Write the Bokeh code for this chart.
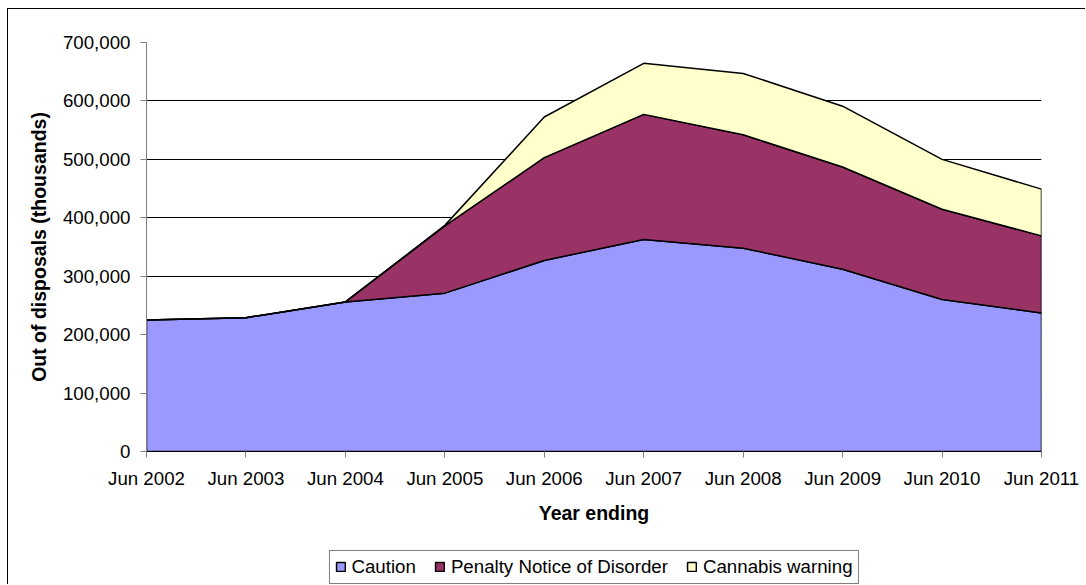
from bokeh.plotting import figure
from bokeh.layouts import column
from bokeh.models import Range1d, FixedTicker, NumeralTickFormatter, Legend, LegendItem
from bokeh.embed import file_html
from bokeh.resources import INLINE

years = ["Jun 2002", "Jun 2003", "Jun 2004", "Jun 2005", "Jun 2006",
         "Jun 2007", "Jun 2008", "Jun 2009", "Jun 2010", "Jun 2011"]
caution = [225000, 229000, 256000, 271000, 327000, 363000, 348000, 312000, 260000, 237000]
pnd = [0, 0, 0, 115000, 176000, 214000, 194000, 175000, 154500, 132000]
cannabis = [0, 0, 0, 1000, 69500, 87400, 105000, 104000, 85500, 80000]
y_ticks = [0, 100000, 200000, 300000, 400000, 500000, 600000, 700000]

series_names = ["Caution", "Penalty Notice of Disorder", "Cannabis warning"]
series_colors = ["#9999FF", "#993366", "#FFFFCC"]

FONT = "Liberation Sans"

p = figure(width=1077, height=540, x_range=Range1d(0, len(years) - 1),
           y_range=Range1d(0, 700000), output_backend="svg", toolbar_location=None,
           min_border_left=138, min_border_right=44, min_border_top=33,
           min_border_bottom=98)

p.outline_line_color = None
p.background_fill_color = "white"
p.border_fill_color = "white"

xs = list(range(len(years)))
polys = []
bottom = [0] * len(years)
for vals in [caution, pnd, cannabis]:
    top = [b + v for b, v in zip(bottom, vals)]
    polys.append((xs + xs[::-1], top + bottom[::-1]))
    bottom = top

for (px, py), color in zip(polys, series_colors):
    p.patch(px, py, fill_color=color, line_color="black", line_width=1.5)

# axes
p.xaxis.ticker = FixedTicker(ticks=xs)
p.xaxis.major_label_overrides = {i: y for i, y in enumerate(years)}
p.yaxis.ticker = FixedTicker(ticks=y_ticks)
p.yaxis.formatter = NumeralTickFormatter(format="0,0")

for ax in (p.xaxis[0], p.yaxis[0]):
    ax.major_label_text_font = FONT
    ax.major_label_text_font_size = "18.7px"
    ax.major_label_text_color = "black"
    ax.axis_label_text_font = FONT
    ax.axis_label_text_font_size = "19.5px"
    ax.axis_label_text_font_style = "bold"
    ax.axis_label_text_color = "black"
    ax.minor_tick_line_color = None
    ax.major_tick_in = 0
    ax.major_tick_out = 6
    ax.major_label_standoff = 10

p.xaxis.axis_label = "Year ending"
p.yaxis.axis_label = "Out of disposals (thousands)"
p.xaxis.axis_label_standoff = 10
p.yaxis.axis_label_standoff = 10
p.xaxis.axis_line_color = "black"
p.xaxis.major_tick_line_color = "#808080"
p.yaxis.axis_line_color = "#808080"
p.yaxis.major_tick_line_color = "#808080"

p.xgrid.grid_line_color = None
p.ygrid.ticker = FixedTicker(ticks=y_ticks)
p.ygrid.grid_line_color = "black"
p.ygrid.grid_line_width = 1

# legend strip below the chart (series drawn out of view; only their legend swatches show)
p2 = figure(width=1077, height=35, x_range=Range1d(0, 1), y_range=Range1d(-2, -1),
            output_backend="svg", toolbar_location=None,
            x_axis_type=None, y_axis_type=None,
            min_border_left=138, min_border_right=44, min_border_top=0, min_border_bottom=0)
p2.outline_line_color = None
p2.xgrid.grid_line_color = None
p2.ygrid.grid_line_color = None
p2.border_fill_color = "white"
p2.background_fill_color = "white"

swatches = [p2.patch(px, py, fill_color=c, line_color="black", line_width=1.5)
            for (px, py), c in zip(polys, series_colors)]

legend = Legend(items=[LegendItem(label=n, renderers=[r]) for n, r in zip(series_names, swatches)],
                orientation="horizontal", location="center",
                glyph_width=11, glyph_height=11, label_standoff=6, spacing=18,
                padding=5, margin=0,
                label_text_font=FONT, label_text_font_size="18.7px",
                label_text_color="black",
                border_line_color="black", border_line_width=1,
                background_fill_color="white", background_fill_alpha=1)
p2.add_layout(legend)

layout = column(p, p2, spacing=0,
                styles={"margin-left": "7px", "margin-top": "8px",
                        "border-left": "1px solid black", "border-top": "1px solid black"})

open("out.html", "w").write(file_html(layout, INLINE))
